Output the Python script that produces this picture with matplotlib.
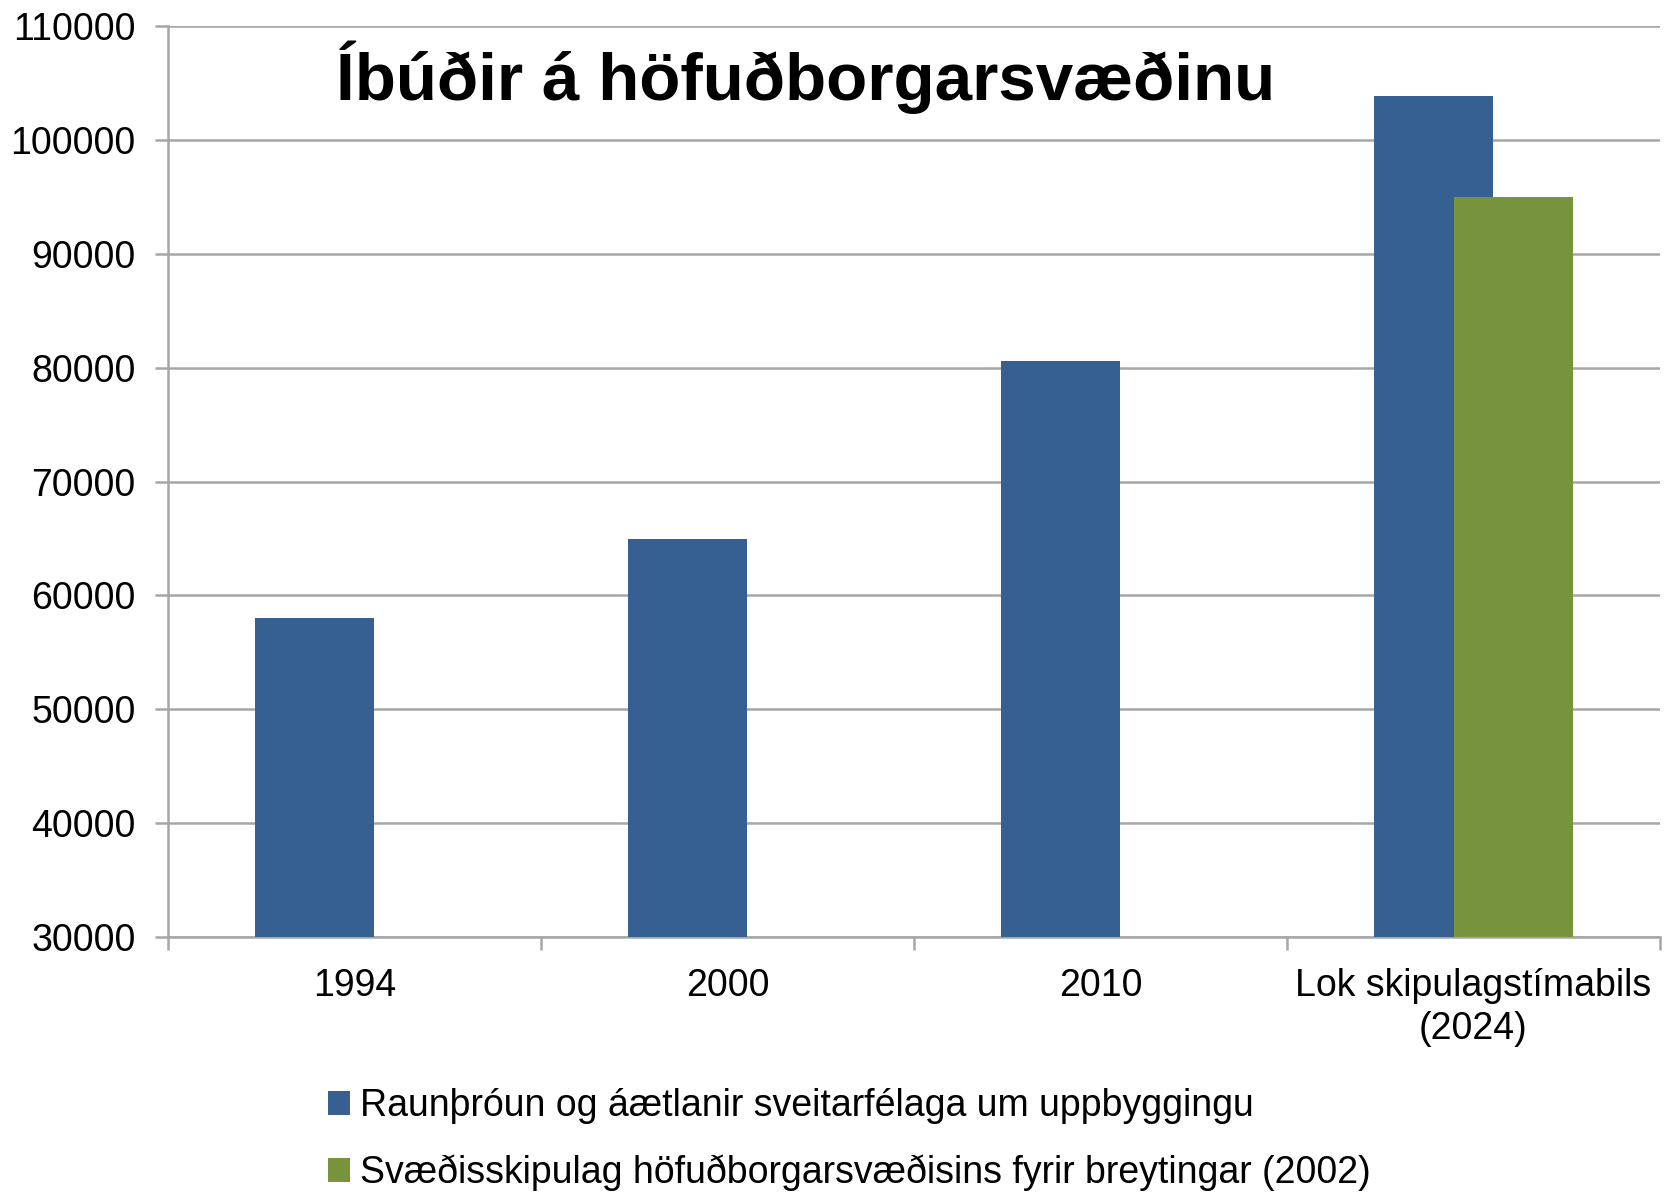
import matplotlib
matplotlib.use("Agg")
import matplotlib.pyplot as plt
import numpy as np
from matplotlib.patches import Patch

plt.rcParams['font.family'] = ['Liberation Sans', 'DejaVu Sans']

categories = ["1994", "2000", "2010", "Lok skipulagstímabils\n(2024)"]
series1_name = "Raunþróun og áætlanir sveitarfélaga um uppbyggingu"
series2_name = "Svæðisskipulag höfuðborgarsvæðisins fyrir breytingar (2002)"
series1 = [58000, 65000, 80600, 103900]
series2 = [np.nan, np.nan, np.nan, 95000]
yticks = [30000, 40000, 50000, 60000, 70000, 80000, 90000, 100000, 110000]
title = "Íbúðir á höfuðborgarsvæðinu"

c1 = "#376092"
c2 = "#77933C"
grid_c = "#A6A6A6"
fs = 27

fig = plt.figure(figsize=(16.75, 11.92), dpi=100)
ax = fig.add_axes([0.1003, 0.2139, 0.8907, 0.7641])

x = np.arange(len(categories))
w = 0.32
off = 0.107
ax.bar(x - off, series1, width=w, color=c1, zorder=3, label=series1_name)
ax.bar(x + off, series2, width=w, color=c2, zorder=4, label=series2_name)

ax.set_ylim(30000, 110000)
ax.set_xlim(-0.5, len(categories) - 0.5)
ax.set_yticks(yticks)
ax.set_yticklabels([str(v) for v in yticks])
ax.yaxis.grid(True, color=grid_c, linewidth=1.8, zorder=0)
ax.set_axisbelow(True)

for s in ["top", "right"]:
    ax.spines[s].set_visible(False)
for s in ["left", "bottom"]:
    ax.spines[s].set_color(grid_c)
    ax.spines[s].set_linewidth(1.8)

ax.tick_params(axis='y', length=9.4, width=1.8, color=grid_c, pad=14, labelsize=fs)
ax.set_xticks(np.arange(-0.5, len(categories)), minor=False)
ax.set_xticklabels([])
ax.tick_params(axis='x', which='major', length=9, width=1.8, color=grid_c)
ax.set_xticks(x, minor=True)
ax.set_xticklabels(categories, minor=True, linespacing=1.25)
ax.tick_params(axis='x', which='minor', length=0, pad=22, labelsize=fs)

fig.text(0.481, 0.935, title, fontsize=48.5, fontweight='bold', ha='center', va='center')

handles = [Patch(facecolor=c1, label=series1_name), Patch(facecolor=c2, label=series2_name)]
fig.legend(handles=handles, loc='upper left', bbox_to_anchor=(0.1957, 0.087), frameon=False,
           fontsize=fs, handlelength=0.6, handleheight=0.6, handletextpad=0.25,
           labelspacing=0.8, borderaxespad=0, borderpad=0)

fig.savefig("out.png", dpi=100)
